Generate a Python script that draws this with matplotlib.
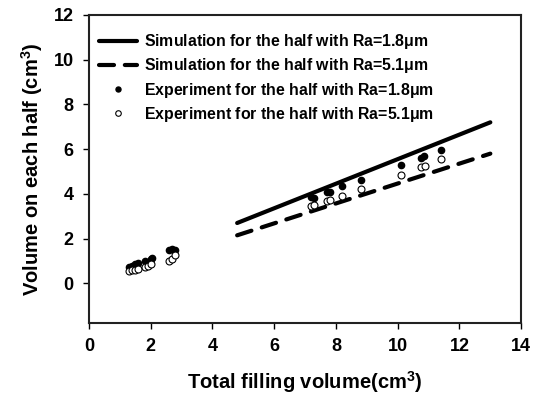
import numpy as np
import matplotlib.pyplot as plt

plt.rcParams['font.family'] = ['Liberation Sans', 'DejaVu Sans']
plt.rcParams['font.weight'] = 'bold'
plt.rcParams['mathtext.default'] = 'regular'

# simulation lines
sim_x = [4.8, 13.0]
sim_18 = [2.7, 7.2]
sim_51 = [2.15, 5.8]

# experiment, Ra=1.8um (filled)
exp18_x = [1.3, 1.4, 1.5, 1.6, 1.8, 2.0, 2.05, 2.6, 2.7, 2.8,
           7.2, 7.3, 7.7, 7.8, 8.2, 8.8, 10.1, 10.75, 10.85, 11.4]
exp18_y = [0.75, 0.8, 0.85, 0.9, 1.0, 1.1, 1.15, 1.5, 1.55, 1.5,
           3.85, 3.8, 4.1, 4.1, 4.35, 4.6, 5.3, 5.6, 5.7, 5.95]
# experiment, Ra=5.1um (open)
exp51_x = [1.3, 1.4, 1.5, 1.6, 1.8, 1.9, 2.0, 2.6, 2.7, 2.8,
           7.2, 7.3, 7.7, 7.8, 8.2, 8.8, 10.1, 10.75, 10.9, 11.4]
exp51_y = [0.55, 0.6, 0.6, 0.65, 0.75, 0.8, 0.85, 1.0, 1.1, 1.25,
           3.45, 3.5, 3.7, 3.75, 3.9, 4.2, 4.85, 5.2, 5.25, 5.55]

fig = plt.figure(figsize=(5.39, 4.03), dpi=100)
ax = fig.add_axes([0.165, 0.199, 0.802, 0.764])

ax.plot(sim_x, sim_18, color='black', linewidth=3, solid_capstyle='round',
        label='Simulation for the half with Ra=1.8$\\mu$m')
ax.plot(sim_x, sim_51, color='black', linewidth=3, dashes=(3.6, 2.6),
        dash_capstyle='round',
        label='Simulation for the half with Ra=5.1$\\mu$m')
ax.plot(exp18_x, exp18_y, 'o', color='black', markersize=4.5, linestyle='none',
        label='Experiment for the half with Ra=1.8$\\mu$m')
ax.plot(exp51_x, exp51_y, 'o', markerfacecolor='white', markeredgecolor='black',
        markeredgewidth=0.8, markersize=5, linestyle='none',
        label='Experiment for the half with Ra=5.1$\\mu$m')

ax.set_xlim(0, 14)
ax.set_ylim(-1.76, 12)
ax.set_xticks(np.arange(0, 15, 2))
ax.set_yticks(np.arange(0, 13, 2))
ax.tick_params(direction='out', length=4, width=1, labelsize=13, pad=7)
for s in ax.spines.values():
    s.set_linewidth(1.5)
    s.set_color('#222222')

ax.set_xlabel('Total filling volume(cm$^3$)', fontsize=14.5, fontweight='bold', labelpad=10)
ax.set_ylabel('Volume on each half (cm$^3$)', fontsize=14.5, fontweight='bold', labelpad=6)

leg = ax.legend(loc='upper left', bbox_to_anchor=(-0.01, 0.99), frameon=False,
                fontsize=11.4, handlelength=2.4, handletextpad=0.45, labelspacing=0.33,
                numpoints=1, markerscale=0.8)

plt.savefig('out.png', dpi=100)
